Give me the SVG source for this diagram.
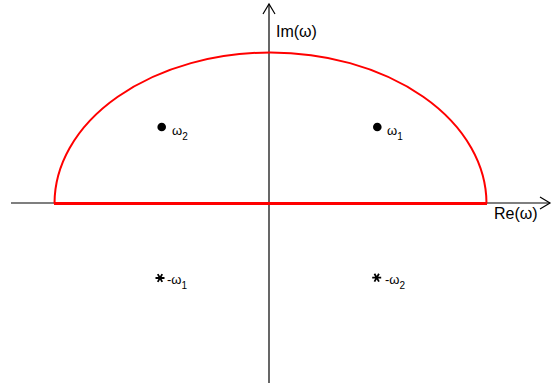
<svg xmlns="http://www.w3.org/2000/svg" width="559" height="383" viewBox="0 0 559 383">
<style>
.axis{stroke:#000;stroke-width:1.2;fill:none}
.red{stroke:#ff0000;fill:none}
.lbl{font-family:"Liberation Sans",Arial,sans-serif;fill:#000}
.w{font-size:13px}
.sub{font-size:10px}
.ax{font-size:16px}
</style>
<defs>
<marker id="arr" markerWidth="14" markerHeight="14" refX="11" refY="7" orient="auto" markerUnits="userSpaceOnUse">
<path d="M1,1 L11,7 L1,13" fill="none" stroke="#000" stroke-width="1.2"/>
</marker>
<g id="ast">
<path d="M-4.5,0 H4.5 M-2.25,-3.9 L2.25,3.9 M2.25,-3.9 L-2.25,3.9" stroke="#000" stroke-width="1.8"/>
</g>
</defs>
<g id="connectors">
<line class="axis" x1="11" y1="203" x2="550" y2="203" marker-end="url(#arr)"/>
<line class="axis" x1="269" y1="383" x2="269" y2="4" marker-end="url(#arr)"/>
</g>
<g id="contour">
<path class="red" stroke-width="2" d="M54.5,203.5 A216,151 0 0 1 486.5,203.5"/>
<line class="red" stroke-width="3" x1="54" y1="203.5" x2="487" y2="203.5"/>
</g>
<g id="re-label"><text class="lbl ax" x="494" y="219">Re(ω)</text></g>
<g id="im-label"><text class="lbl ax" x="276" y="37">Im(ω)</text></g>
<g id="omega2">
<circle cx="161.7" cy="127" r="4.3" fill="#000"/>
<text class="lbl w" x="172" y="135">ω<tspan class="sub" dy="5">2</tspan></text>
</g>
<g id="omega1">
<circle cx="377.3" cy="127" r="4.3" fill="#000"/>
<text class="lbl w" x="387" y="135">ω<tspan class="sub" dy="5">1</tspan></text>
</g>
<g id="neg-omega1">
<use href="#ast" x="160" y="278"/>
<text class="lbl w" x="167" y="284">-ω<tspan class="sub" dy="5">1</tspan></text>
</g>
<g id="neg-omega2">
<use href="#ast" x="376.7" y="277.7"/>
<text class="lbl w" x="385" y="284">-ω<tspan class="sub" dy="5">2</tspan></text>
</g>
</svg>
